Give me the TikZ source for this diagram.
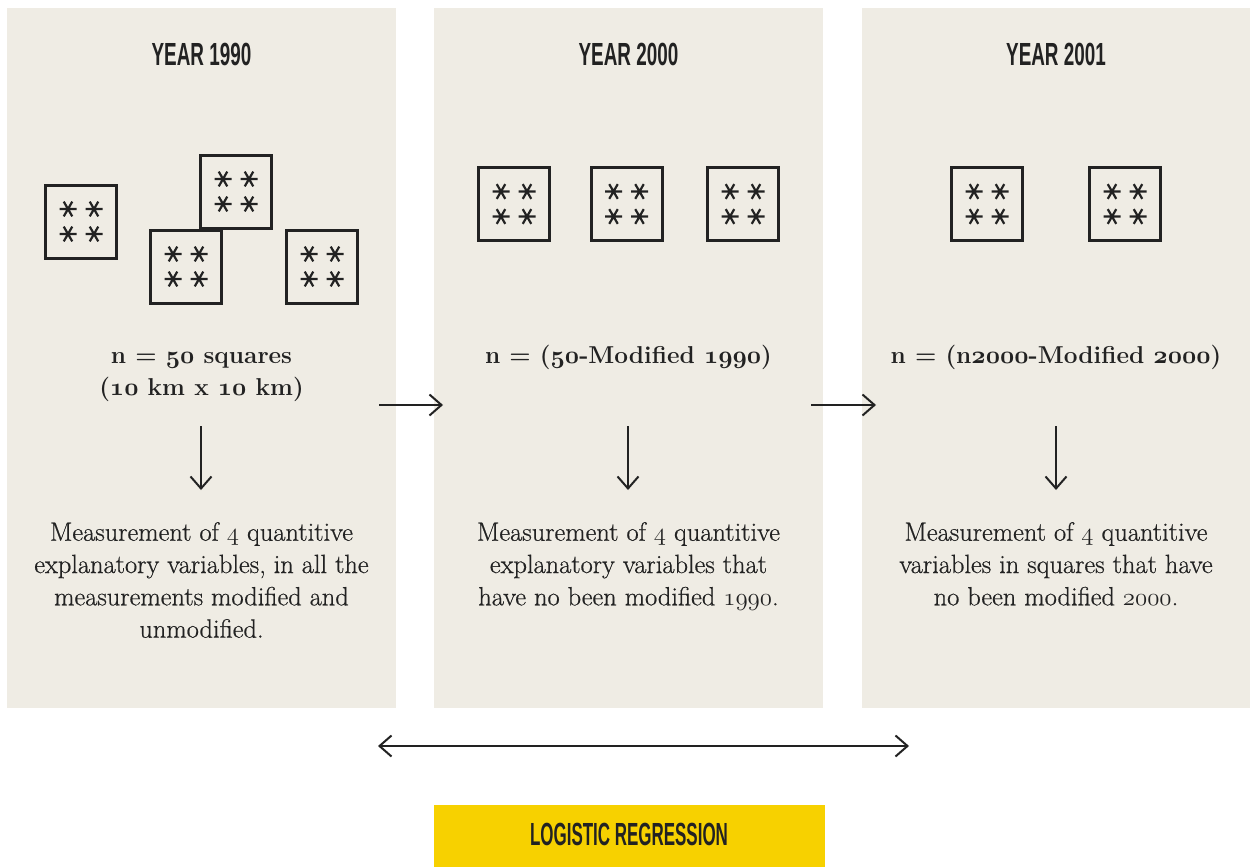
\documentclass[tikz,border=0pt]{standalone}
\usepackage{fontspec}
\usetikzlibrary{arrows.meta}
\newfontfamily\headfont[FakeStretch=0.59]{Liberation Sans}
\newfontfamily\bannerfont[FakeStretch=0.53]{Liberation Sans}
\newfontfamily\bodyfont[FakeBold=0.6]{Latin Modern Roman}
\definecolor{panel}{RGB}{239,236,228}
\definecolor{ink}{RGB}{34,34,34}
\definecolor{yel}{RGB}{247,209,0}
\newcommand\osnr[1]{{\usefont{OML}{cmm}{m}{it}#1}}
\newcommand\osnb[1]{{\usefont{OML}{cmm}{b}{it}#1}}
\begin{document}
\begin{tikzpicture}[x=1pt,y=-1pt,
  panelbox/.style={fill=panel, inner sep=0pt, minimum width=389pt, minimum height=700pt, anchor=north west},
  head/.style={anchor=base, inner sep=0pt, text=ink, font=\headfont\bfseries\fontsize{32}{32}\selectfont},
  sq/.style={draw=ink, line width=3pt, fill=panel, minimum width=71pt, minimum height=73pt, inner sep=0pt},
  ast/.pic={\draw[ink, line width=2.2pt] (0:8.5)--(180:8.5) (60:8.5)--(240:8.5) (120:8.5)--(300:8.5);},
  ntext/.style={anchor=north, inner sep=0pt, align=center, text=ink, font=\bfseries\fontsize{24.4}{32}\selectfont},
  btext/.style={anchor=north, inner sep=0pt, align=center, text=ink, font=\bodyfont\fontsize{26.4}{32.3}\selectfont},
  arr/.style={draw=ink, line width=2pt, -{Straight Barb[length=12pt,width=21pt,line width=2pt]}},
  darr/.style={draw=ink, line width=2pt, {Straight Barb[length=12pt,width=21pt,line width=2pt]}-{Straight Barb[length=12pt,width=21pt,line width=2pt]}}
]
\useasboundingbox (0,0) rectangle (1256,867);
\fill[white] (0,0) rectangle (1256,867);

% panels
\node[panelbox] (p1) at (7,8) {};
\node[panelbox] (p2) at (434,8) {};
\node[panelbox, minimum width=388pt] (p3) at (862,8) {};

% headers
\node[head] (h1) at (201.5,66) {YEAR 1990};
\node[head] (h2) at (628.5,66) {YEAR 2000};
\node[head] (h3) at (1056,66) {YEAR 2001};

% squares
\node[sq] (s1) at (81,221.5) {};
\node[sq] (s2) at (236,191.5) {};
\node[sq] (s3) at (186,266.5) {};
\node[sq] (s4) at (322,266.5) {};
\node[sq] (s5) at (514,204) {};
\node[sq] (s6) at (626.5,204) {};
\node[sq] (s7) at (743,204) {};
\node[sq] (s8) at (987,204) {};
\node[sq] (s9) at (1125,204) {};
\foreach \s in {s1,s2,s3,s4,s5,s6,s7,s8,s9}{
  \foreach \dx/\dy in {-13/-12.5,13/-12.5,-13/12.5,13/12.5}
    \pic at ([shift={(\dx,\dy)}]\s) {ast};
}

% n texts
\node[ntext] (n1) at (201.5,352) {n = \osnb{50} squares\\(\osnb{10} km x \osnb{10} km)};
\node[ntext] (n2) at (628.5,345) {n = (\osnb{50}-Modified \osnb{1990})};
\node[ntext] (n3) at (1056,345) {n = (n\osnb{2000}-Modified \osnb{2000})};

% body texts
\node[btext] (b1) at (201.5,522) {Measurement of \osnr{4} quantitive\\explanatory variables, in all the\\measurements modified and\\unmodified.};
\node[btext] (b2) at (628.5,522) {Measurement of \osnr{4} quantitive\\explanatory variables that\\have no been modified \osnr{1990}.};
\node[btext] (b3) at (1056,522) {Measurement of \osnr{4} quantitive\\variables in squares that have\\no been modified \osnr{2000}.};

% arrow end points
\coordinate (r1s) at (379,405);
\coordinate (r1e) at (443,405);
\coordinate (r2s) at (811,405);
\coordinate (r2e) at (876,405);
\coordinate (d1s) at (201,426);
\coordinate (d1e) at (201,490);
\coordinate (d2s) at (628,426);
\coordinate (d2e) at (628,490);
\coordinate (d3s) at (1056,426);
\coordinate (d3e) at (1056,490);
\coordinate (ls) at (378,746);
\coordinate (le) at (909,746);

\draw[arr] (r1s) -- (r1e);
\draw[arr] (r2s) -- (r2e);
\draw[arr] (d1s) -- (d1e);
\draw[arr] (d2s) -- (d2e);
\draw[arr] (d3s) -- (d3e);
\draw[darr] (ls) -- (le);

% banner
\node[fill=yel, inner sep=0pt, minimum width=391pt, minimum height=62pt, anchor=north west] (lr) at (434,805) {};
\node[anchor=base, inner sep=0pt, text=ink, font=\bannerfont\bfseries\fontsize{32}{32}\selectfont] (lrt) at (629,845) {LOGISTIC REGRESSION};
\end{tikzpicture}
\end{document}
